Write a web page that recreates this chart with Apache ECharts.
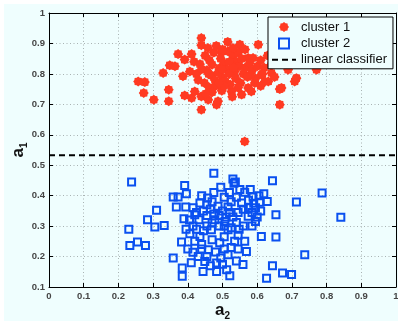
<!DOCTYPE html>
<html>
<head>
<meta charset="utf-8">
<script src="https://cdn.jsdelivr.net/npm/echarts@6/dist/echarts.min.js"></script>
<style>
  html, body { margin: 0; padding: 0; background: #ffffff; }
  #bg { position: absolute; left: 4px; top: 4px; right: 0; bottom: 0; background: #effefe; }
  #chart { position: absolute; left: 0; top: 0; width: 398px; height: 321px; }
</style>
</head>
<body>
<div id="bg"></div>
<div id="chart"></div>
<script>
// cluster 1: a2 (horizontal) and a1 (vertical) values
const cluster1A2 = [
  0.439, 0.439, 0.372, 0.411, 0.391, 0.348, 0.363, 0.329, 0.406, 0.386,
  0.257, 0.276, 0.273, 0.302, 0.345, 0.345, 0.391, 0.411, 0.420, 0.439,
  0.439, 0.459, 0.483, 0.603, 0.550, 0.497, 0.516, 0.574, 0.588, 0.641,
  0.632, 0.670, 0.708, 0.713, 0.665, 0.564, 0.555, 0.526, 0.487, 0.492,
  0.535, 0.612, 0.622, 0.593, 0.574, 0.771, 0.689, 0.665,
  0.450, 0.462, 0.470, 0.455, 0.468, 0.478, 0.448, 0.462, 0.480, 0.495,
  0.505, 0.512, 0.520, 0.500, 0.488, 0.508, 0.522, 0.498, 0.530, 0.540,
  0.548, 0.538, 0.552, 0.560, 0.565, 0.578, 0.585, 0.600, 0.610, 0.595,
  0.580, 0.620, 0.630, 0.545, 0.475, 0.458, 0.482, 0.515, 0.530, 0.565,
  0.505, 0.470, 0.452, 0.528, 0.545, 0.610, 0.640, 0.650, 0.425, 0.430,
  0.418, 0.435, 0.440, 0.520, 0.555, 0.490, 0.583, 0.460, 0.498, 0.532,
  0.572, 0.615, 0.500
];
const cluster1A1 = [
  0.918, 0.894, 0.865, 0.865, 0.847, 0.828, 0.825, 0.803, 0.808, 0.792,
  0.775, 0.773, 0.737, 0.715, 0.748, 0.710, 0.729, 0.721, 0.742, 0.726,
  0.682, 0.715, 0.699, 0.896, 0.896, 0.874, 0.874, 0.852, 0.852, 0.803,
  0.775, 0.754, 0.775, 0.786, 0.699, 0.578, 0.732, 0.742, 0.710, 0.819,
  0.808, 0.797, 0.775, 0.770, 0.754, 0.814, 0.814, 0.750,
  0.860, 0.845, 0.830, 0.812, 0.795, 0.780, 0.770, 0.755, 0.760, 0.850,
  0.835, 0.815, 0.800, 0.790, 0.805, 0.775, 0.765, 0.745, 0.860, 0.840,
  0.825, 0.785, 0.770, 0.800, 0.820, 0.835, 0.810, 0.825, 0.845, 0.785,
  0.795, 0.820, 0.860, 0.870, 0.870, 0.885, 0.892, 0.905, 0.885, 0.880,
  0.760, 0.740, 0.735, 0.725, 0.755, 0.760, 0.830, 0.790, 0.800, 0.780,
  0.840, 0.832, 0.815, 0.840, 0.850, 0.770, 0.742, 0.800, 0.815, 0.820,
  0.790, 0.800, 0.880
];

// cluster 2: a2 (horizontal) and a1 (vertical) values
const cluster2A2 = [
  0.238, 0.391, 0.396, 0.358, 0.372, 0.367, 0.394, 0.310, 0.284, 0.305,
  0.332, 0.230, 0.389, 0.233, 0.255, 0.278, 0.358, 0.384, 0.384, 0.382,
  0.406, 0.415, 0.420, 0.644, 0.619, 0.629, 0.713, 0.787, 0.654, 0.841,
  0.654, 0.612, 0.737, 0.644, 0.673, 0.699, 0.627, 0.475, 0.495, 0.533,
  0.564, 0.457, 0.435, 0.487, 0.516, 0.555, 0.588, 0.607, 0.432, 0.478,
  0.507, 0.540, 0.574, 0.468, 0.516, 0.435, 0.492, 0.535, 0.564, 0.459,
  0.516, 0.569, 0.449, 0.483, 0.559, 0.444, 0.512, 0.483, 0.521, 0.530,
  0.537, 0.605,
  0.445, 0.455, 0.465, 0.475, 0.490, 0.500, 0.510, 0.520, 0.530, 0.545,
  0.560, 0.575, 0.585, 0.595, 0.600, 0.470, 0.490, 0.505, 0.525, 0.548,
  0.560, 0.455, 0.445, 0.425, 0.415, 0.425, 0.440, 0.455, 0.470, 0.505,
  0.525, 0.540, 0.575, 0.590, 0.420, 0.440, 0.470, 0.505, 0.525, 0.545,
  0.480, 0.495, 0.430, 0.465, 0.540, 0.500, 0.585, 0.595, 0.610, 0.545,
  0.455, 0.505, 0.475, 0.520, 0.550, 0.580, 0.440, 0.410, 0.400, 0.415,
  0.405, 0.395
];
const cluster2A1 = [
  0.445, 0.433, 0.406, 0.396, 0.396, 0.363, 0.363, 0.352, 0.321, 0.297,
  0.302, 0.290, 0.324, 0.236, 0.248, 0.236, 0.195, 0.162, 0.135, 0.248,
  0.275, 0.214, 0.337, 0.449, 0.406, 0.381, 0.379, 0.409, 0.337, 0.329,
  0.264, 0.266, 0.206, 0.170, 0.146, 0.141, 0.129, 0.474, 0.428, 0.441,
  0.411, 0.392, 0.376, 0.365, 0.363, 0.376, 0.396, 0.378, 0.321, 0.321,
  0.315, 0.312, 0.332, 0.288, 0.288, 0.266, 0.245, 0.250, 0.250, 0.222,
  0.206, 0.217, 0.184, 0.179, 0.174, 0.151, 0.157, 0.151, 0.137, 0.455,
  0.445, 0.400,
  0.350, 0.335, 0.355, 0.340, 0.335, 0.350, 0.330, 0.345, 0.330, 0.345,
  0.355, 0.360, 0.345, 0.360, 0.330, 0.310, 0.300, 0.300, 0.295, 0.290,
  0.300, 0.300, 0.285, 0.290, 0.300, 0.345, 0.400, 0.370, 0.380, 0.395,
  0.380, 0.395, 0.385, 0.375, 0.250, 0.240, 0.255, 0.265, 0.230, 0.225,
  0.215, 0.195, 0.200, 0.170, 0.185, 0.175, 0.300, 0.315, 0.350, 0.270,
  0.200, 0.225, 0.410, 0.410, 0.420, 0.420, 0.225, 0.180, 0.225, 0.360,
  0.320, 0.290
];

// separating line a1 = constant
const classifierA1 = 0.533;

const xTicks = ['0', '0.1', '0.2', '0.3', '0.4', '0.5', '0.6', '0.7', '0.8', '0.9', '1'];
const yTicks = ['0.1', '0.2', '0.3', '0.4', '0.5', '0.6', '0.7', '0.8', '0.9', '1'];

const zip = (xs, ys) => xs.map((x, i) => [x, ys[i]]);

// bumpy filled blob used for cluster 1 markers
const blob = 'path://M200 100 L176 131 L171 171 L131 176 L100 200 L69 176 L29 171 L24 131 L0 100 L24 69 L29 29 L69 24 L100 0 L131 24 L171 29 L176 69 Z';
const square = 'path://M0 0 L10 0 L10 10 L0 10 Z';

const font = 'Liberation Sans, Arial, sans-serif';
const tickLabel = { fontFamily: font, fontSize: 9.5, fontWeight: 'bold', color: '#454545' };
const gridLine = { show: true, lineStyle: { color: '#a9b3b3', type: [1, 2.5], width: 1 } };
const nameRich = {
  a: { fontFamily: font, fontSize: 17, fontWeight: 'bold', color: '#111' },
  s: { fontFamily: font, fontSize: 10, fontWeight: 'bold', color: '#111', padding: [12, 0, 0, 0] }
};
const boxAxis = {
  type: 'value',
  axisLine: { show: true, onZero: false, lineStyle: { color: '#000', width: 1 } },
  axisTick: { show: true, inside: true, length: 4, lineStyle: { color: '#000' } }
};

const chart = echarts.init(document.getElementById('chart'), null, { renderer: 'canvas' });
chart.setOption({
  backgroundColor: 'transparent',
  animation: false,
  grid: { left: 49, top: 13, right: 2, bottom: 34, containLabel: false, outerBoundsMode: 'none' },
  legend: {
    orient: 'vertical',
    left: 268, top: 17,
    backgroundColor: '#effefe',
    borderColor: '#000', borderWidth: 1, borderRadius: 0,
    padding: [3, 6, 2, 3],
    itemWidth: 24, itemHeight: 10, itemGap: 2.4,
    textStyle: { fontFamily: font, fontSize: 13, color: '#111', lineHeight: 14 },
    data: [
      { name: 'cluster 1' },
      { name: 'cluster 2', icon: square },
      { name: 'linear classifier', itemStyle: { color: 'rgba(0,0,0,0)', borderWidth: 0, opacity: 0 } }
    ]
  },
  xAxis: [Object.assign({}, boxAxis, {
    min: 0, max: 1, interval: 0.1, position: 'bottom',
    axisLabel: Object.assign({ margin: 4, formatter: (v) => xTicks[Math.round(v * 10)] }, tickLabel),
    splitLine: gridLine,
    name: '{a|a}{s|2}', nameLocation: 'middle', nameGap: 12, nameMoveOverlap: false,
    nameTextStyle: { rich: nameRich }
  }), Object.assign({}, boxAxis, {
    min: 0, max: 1, interval: 0.1, position: 'top',
    axisLabel: { show: false }, splitLine: { show: false }
  })],
  yAxis: [Object.assign({}, boxAxis, {
    min: 0.1, max: 1, interval: 0.1, position: 'left',
    axisLabel: Object.assign({ margin: 4, formatter: (v) => yTicks[Math.round(v * 10) - 1] }, tickLabel),
    splitLine: gridLine,
    name: '{a|a}{s|1}', nameLocation: 'middle', nameGap: 20, nameRotate: 90, nameMoveOverlap: false,
    nameTextStyle: { rich: nameRich }
  }), Object.assign({}, boxAxis, {
    min: 0.1, max: 1, interval: 0.1, position: 'right',
    axisLabel: { show: false }, splitLine: { show: false }
  })],
  series: [{
    name: 'cluster 1', type: 'scatter', xAxisIndex: 0, yAxisIndex: 0,
    symbol: blob, symbolSize: 10,
    itemStyle: { color: '#ff3a22', opacity: 1 },
    data: zip(cluster1A2, cluster1A1)
  }, {
    name: 'cluster 2', type: 'scatter', xAxisIndex: 0, yAxisIndex: 0,
    symbol: 'rect', symbolSize: 7,
    itemStyle: { color: 'rgba(0,0,0,0)', borderColor: '#0a50f0', borderWidth: 2, opacity: 1 },
    data: zip(cluster2A2, cluster2A1)
  }, {
    name: 'linear classifier', type: 'line', xAxisIndex: 0, yAxisIndex: 0,
    symbol: 'none', silent: true,
    lineStyle: { color: '#000', width: 2, type: [6, 4] },
    itemStyle: { color: '#000' },
    data: [[0, classifierA1], [1, classifierA1]]
  }]
});
</script>
</body>
</html>
